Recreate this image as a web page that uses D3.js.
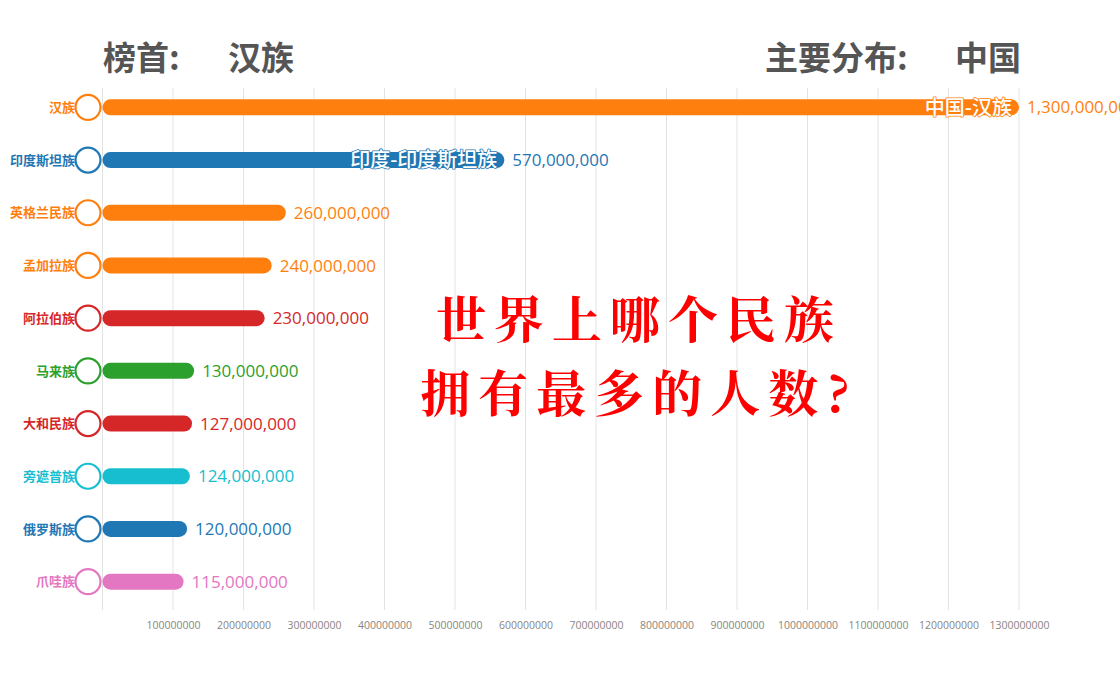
<!DOCTYPE html>
<html><head><meta charset="utf-8">
<script src="https://cdn.jsdelivr.net/npm/d3@7"></script>
<style>body{margin:0;background:#fff;}svg{display:block;}</style>
</head><body><svg id="c" width="1120" height="700"></svg>
<script>
const categories = ["汉族","印度斯坦族","英格兰民族","孟加拉族","阿拉伯族","马来族","大和民族","旁遮普族","俄罗斯族","爪哇族"];
const values = [1300000000,570000000,260000000,240000000,230000000,130000000,127000000,124000000,120000000,115000000];
const colors = ["#ff7f0e","#1f77b4","#ff7f0e","#ff7f0e","#d62728","#2ca02c","#d62728","#17becf","#1f77b4","#e377c2"];
const innerLabels = ["中国-汉族","印度-印度斯坦族","","","","","","","",""];
const tickValues = [100000000,200000000,300000000,400000000,500000000,600000000,700000000,800000000,900000000,1000000000,1100000000,1200000000,1300000000];
const titleLeft = ["榜首:","汉族"];
const titleRight = ["主要分布:","中国"];
const bigText = ["世界上哪个民族","拥有最多的人数?"];

const svg = d3.select("#c");
const font = "'Noto Sans CJK SC','Noto Sans',sans-serif";
const x = d3.scaleLinear().domain([0,1300000000]).range([102.5,1019]);
const y = d3.scaleBand().domain(categories).range([81,608]).paddingInner(0.7).paddingOuter(0.35);
const barH = 16;

// grid
const gridTop = 88, gridBot = 610;
svg.append("g").selectAll("line").data([0].concat(tickValues)).join("line")
  .attr("x1",d=>x(d)).attr("x2",d=>x(d)).attr("y1",gridTop).attr("y2",gridBot)
  .attr("stroke","#e3e3e3").attr("stroke-width",1);

// axis labels
const ax = svg.append("g").attr("transform",`translate(0,${gridBot})`)
  .call(d3.axisBottom(x).tickValues(tickValues).tickFormat(d=>String(d)).tickSize(0).tickPadding(12));
ax.select(".domain").remove();
ax.selectAll("text").attr("fill","#8a8580").style("font-size","10.5px").style("font-family","'Open Sans',sans-serif");

const rows = svg.append("g").selectAll("g").data(categories).join("g");
const cy = d=>y(d)+y.bandwidth()/2;

rows.append("rect")
  .attr("x",x(0)).attr("y",d=>cy(d)-barH/2)
  .attr("width",(d,i)=>x(values[i])-x(0)).attr("height",barH)
  .attr("rx",barH/2).attr("fill",(d,i)=>colors[i]);

rows.append("circle")
  .attr("cx",88).attr("cy",cy).attr("r",12.5)
  .attr("fill","#fff").attr("stroke",(d,i)=>colors[i]).attr("stroke-width",2.2);

rows.append("text")
  .attr("x",75).attr("y",cy).attr("dy","0.36em").attr("text-anchor","end")
  .attr("fill",(d,i)=>colors[i]).style("font-size","13px").style("font-weight","bold")
  .style("font-family",font).text(d=>d);

rows.append("text")
  .attr("x",(d,i)=>x(values[i])+8).attr("y",cy).attr("dy","0.36em")
  .attr("fill",(d,i)=>colors[i]).style("font-size","17px")
  .style("font-family","'Open Sans',sans-serif").text((d,i)=>d3.format(",")(values[i]));

rows.append("text")
  .attr("x",(d,i)=>x(values[i])-7).attr("y",cy).attr("dy","0.36em").attr("text-anchor","end")
  .attr("fill","#fff").attr("stroke",(d,i)=>colors[i]).attr("stroke-width",1.6)
  .attr("stroke-linejoin","round").style("paint-order","stroke")
  .style("font-size","20px").style("font-weight","500")
  .style("font-family",font).text((d,i)=>innerLabels[i]);

// titles
const tStyle = s=>s.attr("fill","#555").style("font-size","33px").style("font-weight","bold").style("font-family",font);
svg.append("text").attr("x",103).attr("y",70).text(titleLeft[0]).call(tStyle);
svg.append("text").attr("x",228).attr("y",70).text(titleLeft[1]).call(tStyle);
svg.append("text").attr("x",765).attr("y",70).text(titleRight[0]).call(tStyle);
svg.append("text").attr("x",955).attr("y",70).text(titleRight[1]).call(tStyle);

// big red text
const big = (s)=>s.attr("text-anchor","middle").attr("fill","#f00")
  .style("font-size","50px").style("font-weight","bold").style("letter-spacing","8px")
  .style("font-family","'Noto Serif CJK SC','Noto Sans CJK SC',serif");
svg.append("text").attr("x",639).attr("y",338).text(bigText[0]).call(big);
svg.append("text").attr("x",639).attr("y",412).text(bigText[1]).call(big);
</script></body></html>
